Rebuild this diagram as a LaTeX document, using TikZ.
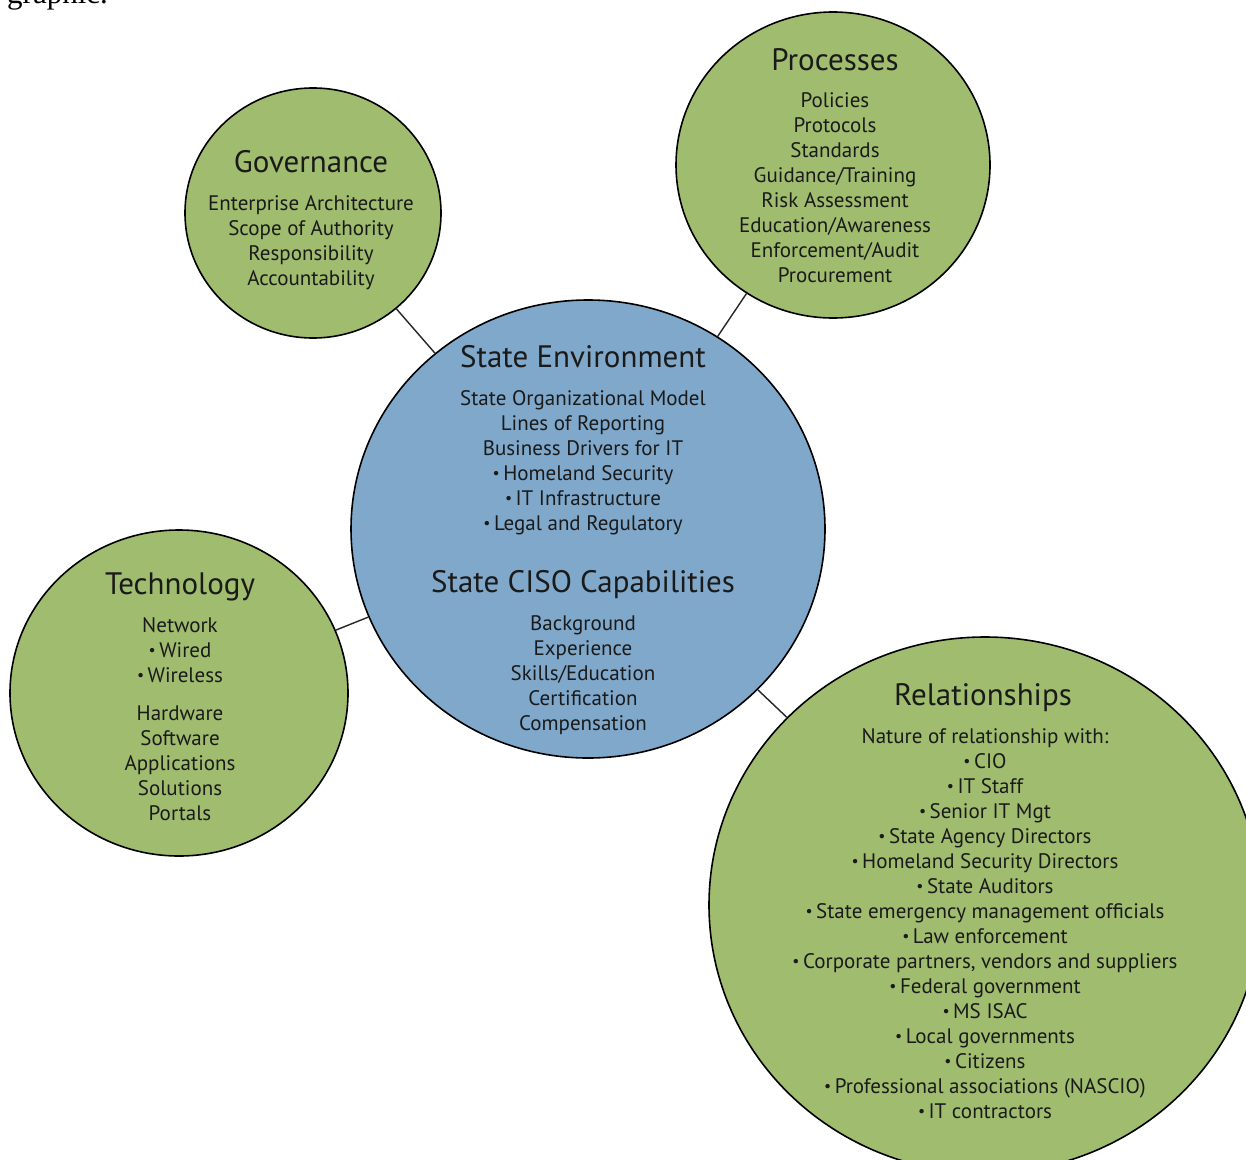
\documentclass[tikz,border=0pt]{standalone}
\usepackage{fontspec}
\setmainfont{PT Sans}
\newfontfamily\serifcap{Liberation Serif}
\usetikzlibrary{shapes.geometric}
\definecolor{grn}{HTML}{A0BC6E}
\definecolor{blu}{HTML}{80A8CA}
\definecolor{txt}{HTML}{1A1A1A}
\newcommand{\bul}{{\raisebox{0.12ex}{\scalebox{0.75}{\textbullet}}}\,}
\begin{document}
\begin{tikzpicture}[x=1pt,y=-1pt,
  bub/.style={ellipse,draw=black,line width=1.6pt,inner sep=0pt},
  gbub/.style={bub,fill=grn},
  bbub/.style={bub,fill=blu},
  ttl/.style={anchor=base,text=txt,font=\fontsize{31}{33}\selectfont,inner sep=0pt},
  body/.style={anchor=base,align=center,text=txt,font=\fontsize{21}{25}\selectfont,inner sep=0pt},
  link/.style={draw=black!85,line width=1.4pt}]
\fill[white] (0,0) rectangle (1246,1159);
\useasboundingbox (0,0) rectangle (1246,1159);

\node[anchor=base west,inner sep=0pt,font=\serifcap\fontsize{31}{31}\selectfont] (cap) at (7,4) {graphic.};

\node[gbub,minimum width=256pt,minimum height=250pt] (gov) at (313,213) {};
\node[gbub,minimum width=314pt,minimum height=306pt] (proc) at (833,165) {};
\node[bbub,minimum width=474pt,minimum height=458pt] (env) at (588,529) {};
\node[gbub,minimum width=338pt,minimum height=326pt] (tech) at (179,693) {};
\node[gbub,minimum width=552pt,minimum height=536pt] (rel) at (985,905) {};

\draw[link] (gov) -- (env);
\draw[link] (proc) -- (env);
\draw[link] (tech) -- (env);
\draw[link] (rel) -- (env);

% multi-line nodes: anchor=base sits on the LAST line's baseline
\node[ttl] (govt) at (311,172) {Governance};
\node[body] (govb) at (311,285) {Enterprise Architecture\\Scope of Authority\\Responsibility\\Accountability};

\node[ttl] (proct) at (835,70) {Processes};
\node[body] (procb) at (835,282) {Policies\\Protocols\\Standards\\Guidance/Training\\Risk Assessment\\Education/Awareness\\Enforcement/Audit\\Procurement};

\node[ttl] (envt) at (583,367) {State Environment};
\node[body] (envb) at (583,530) {State Organizational Model\\Lines of Reporting\\Business Drivers for IT\\\bul Homeland Security\\\bul IT Infrastructure\\\bul Legal and Regulatory};

\node[ttl] (cisot) at (583,592) {State CISO Capabilities};
\node[body] (cisob) at (583,730) {Background\\Experience\\Skills/Education\\Certification\\Compensation};

\node[ttl] (techt) at (180,594) {Technology};
\node[body] (techa) at (180,682) {Network\\\bul Wired\\\bul Wireless};
\node[body] (techb) at (180,820) {Hardware\\Software\\Applications\\Solutions\\Portals};

\node[ttl] (relt) at (983,705) {Relationships};
\node[body] (relb) at (985,1118) {Nature of relationship with:\\\bul CIO\\\bul IT Staff\\\bul Senior IT Mgt\\\bul State Agency Directors\\\bul Homeland Security Directors\\\bul State Auditors\\\bul State emergency management officials\\\bul Law enforcement\\\bul Corporate partners, vendors and suppliers\\\bul Federal government\\\bul MS ISAC\\\bul Local governments\\\bul Citizens\\\bul Professional associations (NASCIO)\\\bul IT contractors};
\end{tikzpicture}
\end{document}
